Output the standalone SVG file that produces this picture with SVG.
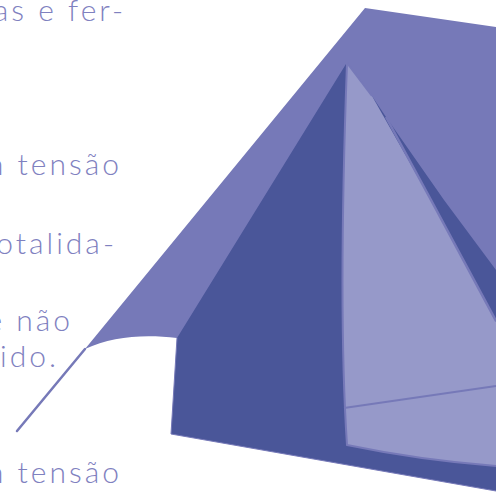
<svg xmlns="http://www.w3.org/2000/svg" width="496" height="494" viewBox="0 0 496 494">
<style>
.t{font-family:"Lato","Liberation Sans",sans-serif;font-weight:300;font-size:30px;letter-spacing:3px;fill:#7f81bf;text-anchor:end}
.e{stroke:#7679b8;fill:none}
</style>
<rect width="496" height="494" fill="#fff"/>
<g id="text">
<text class="t" x="126" y="21">as e fer-</text>
<text class="t" x="122" y="175">m tensão</text>
<text class="t" x="117" y="254">otalida-</text>
<text class="t" x="73" y="331">e não</text>
<text class="t" x="59" y="367">ido.</text>
<text class="t" x="122" y="483">m tensão</text>
</g>
<path d="M365 8L496 27V300L177 338C145 334 112 336 85 349Z" fill="#7679b8"/>
<path class="e" stroke-width="2.5" d="M85 349L17 431" stroke-linecap="round"/>
<path d="M346 64L177 338L171 434L496 491V270L444 200L386 117L372 96Z" fill="#4a5699"/>
<path class="e" stroke-width="1" d="M177 338L171 434L496 491"/>
<path d="M347 63C342 200 340 340 347 445C395 455 445 462 496 466V322L431 200L372 96Z" fill="#9699c9"/>
<path class="e" stroke-width="2.5" d="M386 117L431 200L496 321"/>
<path class="e" stroke-width="2" d="M347 63L372 96"/>
<path class="e" stroke-width="2" d="M347 63C342 200 340 340 347 445C395 455 445 462 496 466"/>
<path class="e" stroke-width="2" d="M344 408L496 386"/>
</svg>
